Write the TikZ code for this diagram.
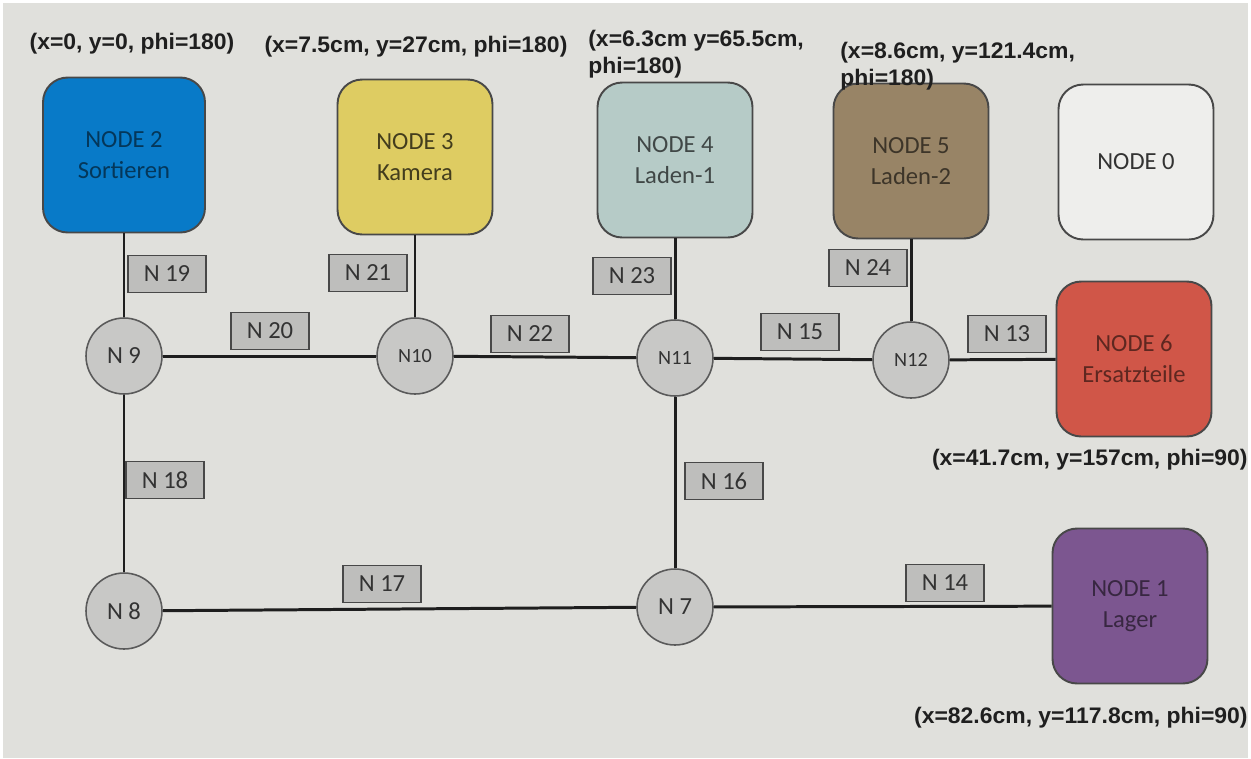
\documentclass[tikz,border=0pt]{standalone}
\usepackage{fontspec}
\setmainfont{Carlito}
\newfontfamily\posfont[FakeStretch=1.02]{Liberation Sans}
\usepackage{xcolor}
\definecolor{paperGray}{RGB}{224,224,220}
\definecolor{edgeGray}{RGB}{72,72,72}
\definecolor{hubGray}{RGB}{200,200,198}
\definecolor{tagGray}{RGB}{190,190,188}
\definecolor{wireBlack}{RGB}{30,30,30}
\definecolor{sortBlue}{RGB}{8,122,200}
\definecolor{camYellow}{RGB}{222,204,98}
\definecolor{loadTeal}{RGB}{182,203,199}
\definecolor{loadBrown}{RGB}{152,132,102}
\definecolor{spareRed}{RGB}{208,86,72}
\definecolor{storePurple}{RGB}{124,86,144}
\definecolor{idleWhite}{RGB}{238,238,236}
\usetikzlibrary{positioning}

\begin{document}
\begin{tikzpicture}[x=0.02cm,y=-0.02cm,
  station/.style={draw=edgeGray,line width=1.1pt,rounded corners=14pt,align=center,
    minimum width=3.1cm,minimum height=3.1cm,font=\fontsize{14}{17.5}\selectfont},
  hub/.style={circle,draw=edgeGray!90,fill=hubGray,line width=0.9pt,minimum size=1.52cm,
    inner sep=0pt,text=black!80,font=\fontsize{14}{16}\selectfont},
  hubsm/.style={hub,font=\fontsize{11.5}{13}\selectfont},
  tag/.style={draw=edgeGray,fill=tagGray,line width=0.8pt,minimum width=1.56cm,
    minimum height=0.74cm,inner sep=0pt,text=black!80,font=\fontsize{14}{16}\selectfont},
  posetext/.style={font=\posfont\bfseries\fontsize{12.8}{15.3}\selectfont,inner sep=0pt,text=black!88},
  wire/.style={wireBlack,line width=1.7pt}]
  \useasboundingbox (0,0) rectangle (1251,758);
  \fill[paperGray] (3,3) rectangle (1248,758);

  % stations
  \node[station,fill=sortBlue,text=sortBlue!45!black,minimum width=3.24cm] (st2) at (124,155) {NODE 2\\Sortieren};
  \node[station,fill=camYellow,text=camYellow!30!black] (st3) at (415,157) {NODE 3\\Kamera};
  \node[station,fill=loadTeal,text=loadTeal!35!black] (st4) at (675,160) {NODE 4\\Laden-1};
  \node[station,fill=loadBrown,text=loadBrown!40!black] (st5) at (911,161) {NODE 5\\Laden-2};
  \node[station,fill=idleWhite,text=black!80] (st0) at (1136,162) {NODE 0};
  \node[station,fill=spareRed,text=spareRed!45!black] (st6) at (1134,359) {NODE 6\\Ersatzteile};
  \node[station,fill=storePurple,text=storePurple!45!black] (st1) at (1130,606) {NODE 1\\Lager};

  % junctions
  \node[hub] (jn9) at (124,356) {N 9};
  \node[hubsm] (jn10) at (415,356) {N10};
  \node[hubsm] (jn11) at (675,358) {N11};
  \node[hubsm] (jn12) at (911,360) {N12};
  \node[hub] (jn8) at (124,611) {N 8};
  \node[hub] (jn7) at (675,607) {N 7};

  % segment tags
  \foreach \n/\px/\py in {19/167/274,21/368/273,23/632/276,24/868/268,
      20/270/331,22/530/334,15/800/332,13/1007/334,
      18/165/480,16/724/481,17/382/584,14/945/583}
    \node[tag] (tg\n) at (\px,\py) {N \n};

  % connections
  \draw[wire] (st2) -- (jn9);
  \draw[wire] (st3) -- (jn10);
  \draw[wire] (st4) -- (jn11);
  \draw[wire] (st5) -- (jn12);
  \draw[wire] (jn9) -- (jn10);
  \draw[wire] (jn10) -- (jn11);
  \draw[wire] (jn11) -- (jn12);
  \draw[wire] (jn12) -- (st6);
  \draw[wire] (jn9) -- (jn8);
  \draw[wire] (jn11) -- (jn7);
  \draw[wire] (jn8) -- (jn7);
  \draw[wire] (jn7) -- (st1);

  % poses
  \node[posetext] (ps2) at (132,44) {(x=0, y=0, phi=180)};
  \node[posetext] (ps3) at (416,47) {(x=7.5cm, y=27cm, phi=180)};
  \node[posetext,anchor=west,align=left] (ps4) at (588,54) {(x=6.3cm y=65.5cm,\\phi=180)};
  \node[posetext,anchor=west,align=left] (ps5) at (840,66) {(x=8.6cm, y=121.4cm,\\phi=180)};
  \node[posetext,anchor=east] (ps6) at (1248,460) {(x=41.7cm, y=157cm, phi=90)};
  \node[posetext,anchor=east] (ps1) at (1248,718) {(x=82.6cm, y=117.8cm, phi=90)};
\end{tikzpicture}
\end{document}
